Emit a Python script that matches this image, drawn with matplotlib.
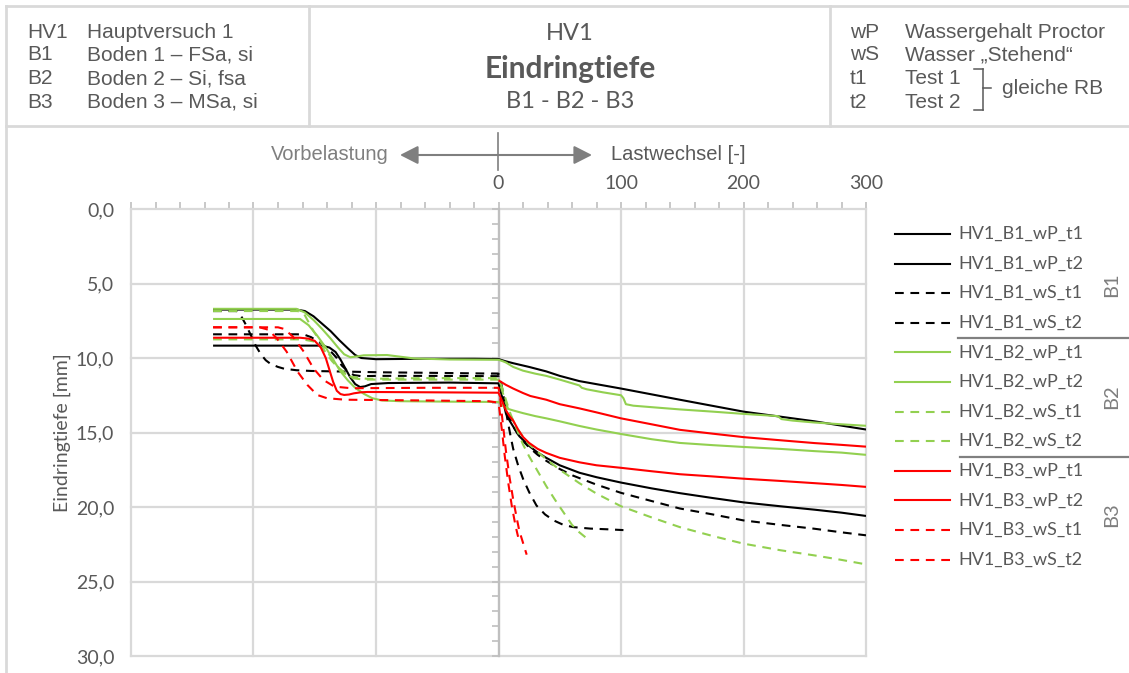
import matplotlib
matplotlib.use("Agg")
import matplotlib.pyplot as plt
from matplotlib.lines import Line2D
from matplotlib.patches import FancyArrowPatch
from matplotlib.ticker import MultipleLocator, FixedLocator, FixedFormatter

# ---------------- data ----------------
x_ticks = [-300, -200, -100, 0, 100, 200, 300]
x_tick_labels = ["", "", "", "0", "100", "200", "300"]
y_ticks = [0, 5, 10, 15, 20, 25, 30]
y_tick_labels = ["0,0", "5,0", "10,0", "15,0", "20,0", "25,0", "30,0"]

b1_wp_t1_x = [-233, -165, -158, -151, -144, -137, -130, -123, -117, -112, -100, -60, -20, 0, 5, 12, 25, 39, 50, 66, 100, 148, 200, 258, 300]
b1_wp_t1_y = [6.75, 6.75, 6.85, 7.2, 7.7, 8.2, 8.8, 9.35, 9.8, 10.0, 10.08, 10.05, 10.05, 10.07, 10.2, 10.35, 10.6, 10.9, 11.2, 11.55, 12.05, 12.8, 13.6, 14.25, 14.8]

b1_wp_t2_x = [-233, -144, -138, -133, -129, -125, -121, -117, -113, -109, -104, -90, -40, 0, 2, 4, 6, 9, 12, 17, 25, 32, 39, 50, 66, 80, 100, 125, 148, 175, 200, 230, 258, 280, 300]
b1_wp_t2_y = [9.17, 9.17, 9.3, 9.6, 10.1, 10.7, 11.3, 11.75, 11.95, 11.9, 11.75, 11.68, 11.65, 11.7, 12.3, 13.0, 13.7, 14.2, 14.6, 15.25, 15.9, 16.35, 16.7, 17.2, 17.7, 18.0, 18.36, 18.75, 19.07, 19.4, 19.69, 19.95, 20.18, 20.38, 20.6]

b1_ws_t1_x = [-233, -214, -210, -206, -202, -198, -194, -190, -186, -180, -175, -165, -153, -120, -96, -50, 0, 2, 4, 7, 10, 12, 16, 20, 25, 31, 38, 45, 53, 61, 75, 90, 102]
b1_ws_t1_y = [6.85, 6.85, 7.2, 7.8, 8.5, 9.2, 9.75, 10.15, 10.4, 10.6, 10.72, 10.82, 10.87, 10.92, 10.96, 11.0, 11.05, 11.6, 12.5, 14.0, 15.3, 16.1, 17.2, 18.1, 19.0, 19.9, 20.5, 20.9, 21.2, 21.35, 21.45, 21.5, 21.55]

b1_ws_t2_x = [-233, -164, -158, -153, -148, -143, -137, -132, -128, -123, -118, -112, -100, -50, 0, 2, 5, 8, 12, 18, 25, 32, 39, 50, 61, 80, 100, 125, 148, 175, 200, 230, 258, 280, 300]
b1_ws_t2_y = [8.41, 8.41, 8.45, 8.6, 8.85, 9.13, 9.55, 10.0, 10.5, 10.9, 11.15, 11.22, 11.2, 11.2, 11.22, 11.8, 12.8, 13.8, 14.6, 15.4, 16.0, 16.5, 16.9, 17.45, 17.9, 18.5, 19.05, 19.6, 20.1, 20.5, 20.9, 21.2, 21.46, 21.7, 21.9]

b2_wp_t1_x = [-233, -165, -158, -151, -144, -137, -131, -126, -121, -116, -110, -91, -69, -40, 0, 3, 6, 12, 20, 30, 39, 50, 66, 68, 72, 85, 100, 102, 104, 110, 125, 148, 175, 200, 228, 231, 240, 258, 280, 300]
b2_wp_t1_y = [6.7, 6.7, 6.95, 7.45, 8.05, 8.7, 9.3, 9.75, 9.95, 9.9, 9.82, 9.8, 10.03, 10.1, 10.12, 10.2, 10.3, 10.6, 10.85, 11.05, 11.2, 11.45, 11.84, 12.0, 12.1, 12.3, 12.5, 12.7, 13.1, 13.2, 13.3, 13.45, 13.6, 13.75, 13.9, 14.1, 14.2, 14.33, 14.45, 14.55]

b2_wp_t2_x = [-233, -162, -155, -148, -141, -135, -129, -123, -117, -110, -103, -95, -80, -40, 0, 2, 5, 8, 12, 20, 30, 39, 50, 66, 80, 100, 125, 148, 175, 200, 230, 258, 280, 300]
b2_wp_t2_y = [7.38, 7.38, 7.8, 8.5, 9.3, 10.1, 10.9, 11.5, 12.0, 12.4, 12.7, 12.85, 12.9, 12.93, 12.95, 13.1, 13.3, 13.42, 13.52, 13.7, 13.9, 14.05, 14.25, 14.56, 14.8, 15.1, 15.45, 15.7, 15.85, 15.97, 16.1, 16.25, 16.35, 16.5]

b2_ws_t1_x = [-233, -164, -159, -151, -140, -130, -121, -107, -60, 0, 3, 6, 10, 15, 20, 25, 32, 39, 46, 53, 60, 66, 72]
b2_ws_t1_y = [6.85, 6.85, 7.0, 8.2, 9.57, 10.7, 11.25, 11.4, 11.35, 11.35, 12.0, 12.8, 13.8, 14.8, 15.8, 16.6, 17.6, 18.6, 19.5, 20.35, 21.2, 21.7, 22.1]

b2_ws_t2_x = [-233, -160, -150, -143, -136, -128, -120, -110, -60, 0, 3, 6, 10, 15, 20, 25, 32, 39, 50, 66, 80, 100, 125, 148, 175, 200, 230, 258, 280, 300]
b2_ws_t2_y = [8.75, 8.75, 8.9, 9.4, 10.2, 10.9, 11.35, 11.45, 11.45, 11.45, 12.2, 13.0, 13.9, 14.7, 15.3, 15.8, 16.3, 16.8, 17.5, 18.4, 19.1, 19.95, 20.7, 21.35, 21.95, 22.46, 22.9, 23.25, 23.55, 23.85]

b3_wp_t1_x = [-233, -162, -155, -150, -145, -141, -138, -135, -132, -129, -126, -122, -118, -112, -107, -60, 0, 3, 6, 9, 12, 16, 20, 25, 32, 39, 50, 66, 80, 100, 125, 148, 175, 200, 230, 258, 280, 300]
b3_wp_t1_y = [8.64, 8.64, 8.7, 8.85, 9.3, 10.0, 10.8, 11.6, 12.2, 12.42, 12.48, 12.45, 12.37, 12.3, 12.28, 12.3, 12.33, 12.9, 13.5, 13.9, 14.2, 14.8, 15.3, 15.7, 16.1, 16.37, 16.7, 17.0, 17.2, 17.37, 17.6, 17.8, 17.95, 18.1, 18.25, 18.4, 18.52, 18.65]

b3_wp_t2_x = [0, 3, 6, 12, 20, 26, 39, 50, 66, 80, 100, 125, 148, 175, 200, 230, 258, 280, 300]
b3_wp_t2_y = [11.5, 11.65, 11.8, 12.05, 12.35, 12.55, 12.8, 13.1, 13.38, 13.65, 14.05, 14.45, 14.82, 15.08, 15.31, 15.52, 15.71, 15.83, 15.95]

b3_ws_t1_x = [-233, -195, -188, -181, -173, -164, -156, -148, -140, -125, -60, -8, 0, 1, 3, 5, 8, 11, 14, 16]
b3_ws_t1_y = [7.94, 7.94, 8.1, 8.68, 9.57, 10.92, 11.81, 12.48, 12.7, 12.8, 12.85, 12.9, 13.0, 13.6, 15.0, 16.5, 18.4, 20.0, 21.3, 22.0]

b3_ws_t2_x = [-233, -180, -175, -168, -159, -151, -143, -134, -120, -60, 0, 1, 3, 6, 9, 12, 15, 17, 20, 23]
b3_ws_t2_y = [7.94, 7.94, 8.05, 8.55, 9.57, 10.7, 11.47, 11.92, 12.03, 12.0, 12.0, 12.4, 14.0, 16.2, 18.0, 19.5, 20.8, 21.6, 22.4, 23.2]

series_names = ["HV1_B1_wP_t1", "HV1_B1_wP_t2", "HV1_B1_wS_t1", "HV1_B1_wS_t2",
                "HV1_B2_wP_t1", "HV1_B2_wP_t2", "HV1_B2_wS_t1", "HV1_B2_wS_t2",
                "HV1_B3_wP_t1", "HV1_B3_wP_t2", "HV1_B3_wS_t1", "HV1_B3_wS_t2"]
series_x = [b1_wp_t1_x, b1_wp_t2_x, b1_ws_t1_x, b1_ws_t2_x,
            b2_wp_t1_x, b2_wp_t2_x, b2_ws_t1_x, b2_ws_t2_x,
            b3_wp_t1_x, b3_wp_t2_x, b3_ws_t1_x, b3_ws_t2_x]
series_y = [b1_wp_t1_y, b1_wp_t2_y, b1_ws_t1_y, b1_ws_t2_y,
            b2_wp_t1_y, b2_wp_t2_y, b2_ws_t1_y, b2_ws_t2_y,
            b3_wp_t1_y, b3_wp_t2_y, b3_ws_t1_y, b3_ws_t2_y]

group_labels = ["B1", "B2", "B3"]
header_left = [("HV1", "Hauptversuch 1"), ("B1", "Boden 1 \u2013 FSa, si"),
               ("B2", "Boden 2 \u2013 Si, fsa"), ("B3", "Boden 3 \u2013 MSa, si")]
header_right = [("wP", "Wassergehalt Proctor"), ("wS", "Wasser \u201eStehend\u201c"),
                ("t1", "Test 1"), ("t2", "Test 2")]

# ---------------- styles ----------------
C_BLACK, C_GREEN, C_RED = "#000000", "#92D050", "#FF0000"
group_colors = [C_BLACK, C_GREEN, C_RED]
GRID = "#d9d9d9"
AXC = "#bfbfbf"
TXT = "#595959"
CAL = ["Lato", "DejaVu Sans"]
ARI = ["Liberation Sans", "DejaVu Sans"]
LW = 1.5
DASH = (4.2, 3.2)

W, H = 1129, 673
fig = plt.figure(figsize=(W / 100, H / 100), dpi=100)
fig.patch.set_facecolor("white")


def fx(px):
    return px / W


def fy(py):
    return 1 - py / H


pos = [fx(131), fy(656), fx(866) - fx(131), fy(209) - fy(656)]

# background axes: grid, x=0 axis, top axis
axb = fig.add_axes(pos, zorder=0)
axb.set_xlim(-300, 300)
axb.set_ylim(30, 0)
for s in axb.spines.values():
    s.set_visible(False)
axb.spines["left"].set_visible(True)
axb.spines["left"].set_position(("data", 0))
axb.spines["left"].set_color(AXC)
axb.spines["left"].set_linewidth(1.6)
axb.yaxis.set_major_locator(FixedLocator(y_ticks))
axb.yaxis.set_minor_locator(MultipleLocator(1))
axb.tick_params(axis="y", which="both", direction="out", length=5, width=1.2,
                color=AXC, labelleft=False)
axb.xaxis.tick_top()
axb.xaxis.set_major_locator(FixedLocator(x_ticks))
axb.xaxis.set_major_formatter(FixedFormatter(x_tick_labels))
axb.xaxis.set_minor_locator(MultipleLocator(20))
axb.tick_params(axis="x", which="both", direction="out", length=5, width=1.2,
                color=AXC, labelsize=14, labelcolor=TXT, pad=7)
for lab in axb.get_xticklabels():
    lab.set_fontfamily(CAL)
axb.grid(True, which="major", color=GRID, linewidth=1.6)
axb.set_axisbelow(True)
for gl in axb.get_xgridlines() + axb.get_ygridlines():
    gl.set_clip_on(False)

# data axes
ax = fig.add_axes(pos, zorder=1)
ax.patch.set_visible(False)
ax.set_xlim(-300, 300)
ax.set_ylim(30, 0)
for s in ax.spines.values():
    s.set_visible(False)
ax.set_xticks([])
ax.set_yticks(y_ticks)
ax.set_yticklabels(y_tick_labels, fontfamily=CAL, fontsize=14, color=TXT)
ax.tick_params(axis="y", length=0, pad=12)
ax.set_ylabel("Eindringtiefe [mm]", fontfamily=CAL, fontsize=14, color=TXT)
ax.yaxis.set_label_coords(-0.082, 0.5)

lines = []
for i, (name, xs, ys) in enumerate(zip(series_names, series_x, series_y)):
    color = group_colors[i // 4]
    dashed = "wS" in name
    ln, = ax.plot(xs, ys, color=color, lw=LW, label=name, solid_capstyle="butt")
    if dashed:
        ln.set_dashes(DASH)
    lines.append((ln, color, dashed))

# ---------------- legend (manual) ----------------
leg_y0, leg_dy = 234, 29.6
for i, (ln, color, dashed) in enumerate(lines):
    yy = fy(leg_y0 + i * leg_dy)
    h = Line2D([fx(895), fx(950)], [yy, yy], color=color, lw=LW,
               transform=fig.transFigure)
    if dashed:
        h.set_dashes(DASH)
    fig.add_artist(h)
    fig.text(fx(958), yy, ln.get_label(), ha="left", va="center",
             fontfamily=CAL, fontsize=13, color=TXT)

for ysep, x0 in [(338, 958), (457, 960)]:
    fig.add_artist(Line2D([fx(x0), fx(1129)], [fy(ysep), fy(ysep)], color="#808080",
                          lw=1.6, transform=fig.transFigure))
for g, yc in zip(group_labels, [285, 397, 515]):
    fig.text(fx(1112), fy(yc), g, rotation=90, ha="center", va="center",
             fontfamily=CAL, fontsize=14.5, color="#7f7f7f")

# ---------------- top annotation ----------------
GA = "#7f7f7f"
fig.add_artist(Line2D([fx(498), fx(498)], [fy(133), fy(170)], color=GA, lw=1.2,
                      transform=fig.transFigure))
for xend in (400, 592):
    fig.add_artist(FancyArrowPatch((fx(498), fy(155)), (fx(xend), fy(155)),
                                   transform=fig.transFigure,
                                   arrowstyle="-|>,head_length=0.55,head_width=0.28",
                                   mutation_scale=20, color=GA, lw=1.5,
                                   shrinkA=0, shrinkB=0))
fig.text(fx(389), fy(154), "Vorbelastung", ha="right", va="center",
         fontfamily=ARI, fontsize=14.5, color=GA)
fig.text(fx(611), fy(154), "Lastwechsel [-]", ha="left", va="center",
         fontfamily=ARI, fontsize=14.5, color=TXT)

# ---------------- header frame ----------------
FR = "#d9d9d9"
frame_lines = [((6, 1129), (6, 6)), ((6, 1129), (126, 126)), ((6, 6), (6, 673)),
               ((309, 309), (6, 126)), ((830, 830), (6, 126))]
for (xa, xb_), (ya, yb) in frame_lines:
    fig.add_artist(Line2D([fx(xa), fx(xb_)], [fy(ya), fy(yb)], color=FR, lw=2,
                          transform=fig.transFigure))

row_base = [38.5, 60.5, 84.5, 107.5]
for (a, b), yb in zip(header_left, row_base):
    fig.text(fx(27), fy(yb), a, ha="left", va="baseline", fontfamily=ARI,
             fontsize=15, color=TXT)
    fig.text(fx(87), fy(yb), b, ha="left", va="baseline", fontfamily=ARI,
             fontsize=15, color=TXT)
for (a, b), yb in zip(header_right, row_base):
    fig.text(fx(850), fy(yb), a, ha="left", va="baseline", fontfamily=ARI,
             fontsize=15, color=TXT)
    fig.text(fx(905), fy(yb), b, ha="left", va="baseline", fontfamily=ARI,
             fontsize=15, color=TXT)
for (xa, xb_), (ya, yb) in [((974, 983), (69, 69)), ((983, 983), (69, 110)),
                            ((974, 983), (110, 110)), ((983, 991), (88, 88))]:
    fig.add_artist(Line2D([fx(xa), fx(xb_)], [fy(ya), fy(yb)], color=TXT, lw=1.1,
                          transform=fig.transFigure))
fig.text(fx(1002), fy(88), "gleiche RB", ha="left", va="center", fontfamily=ARI,
         fontsize=15, color=TXT)

fig.text(fx(570), fy(33), "HV1", ha="center", va="center", fontfamily=CAL,
         fontsize=17, color=TXT)
fig.text(fx(570), fy(69), "Eindringtiefe", ha="center", va="center", fontfamily=CAL,
         fontsize=21.5, fontweight="bold", color=TXT)
fig.text(fx(570), fy(102), "B1 - B2 - B3", ha="center", va="center", fontfamily=CAL,
         fontsize=17, color=TXT)

fig.savefig("out.png", dpi=100, facecolor="white")
